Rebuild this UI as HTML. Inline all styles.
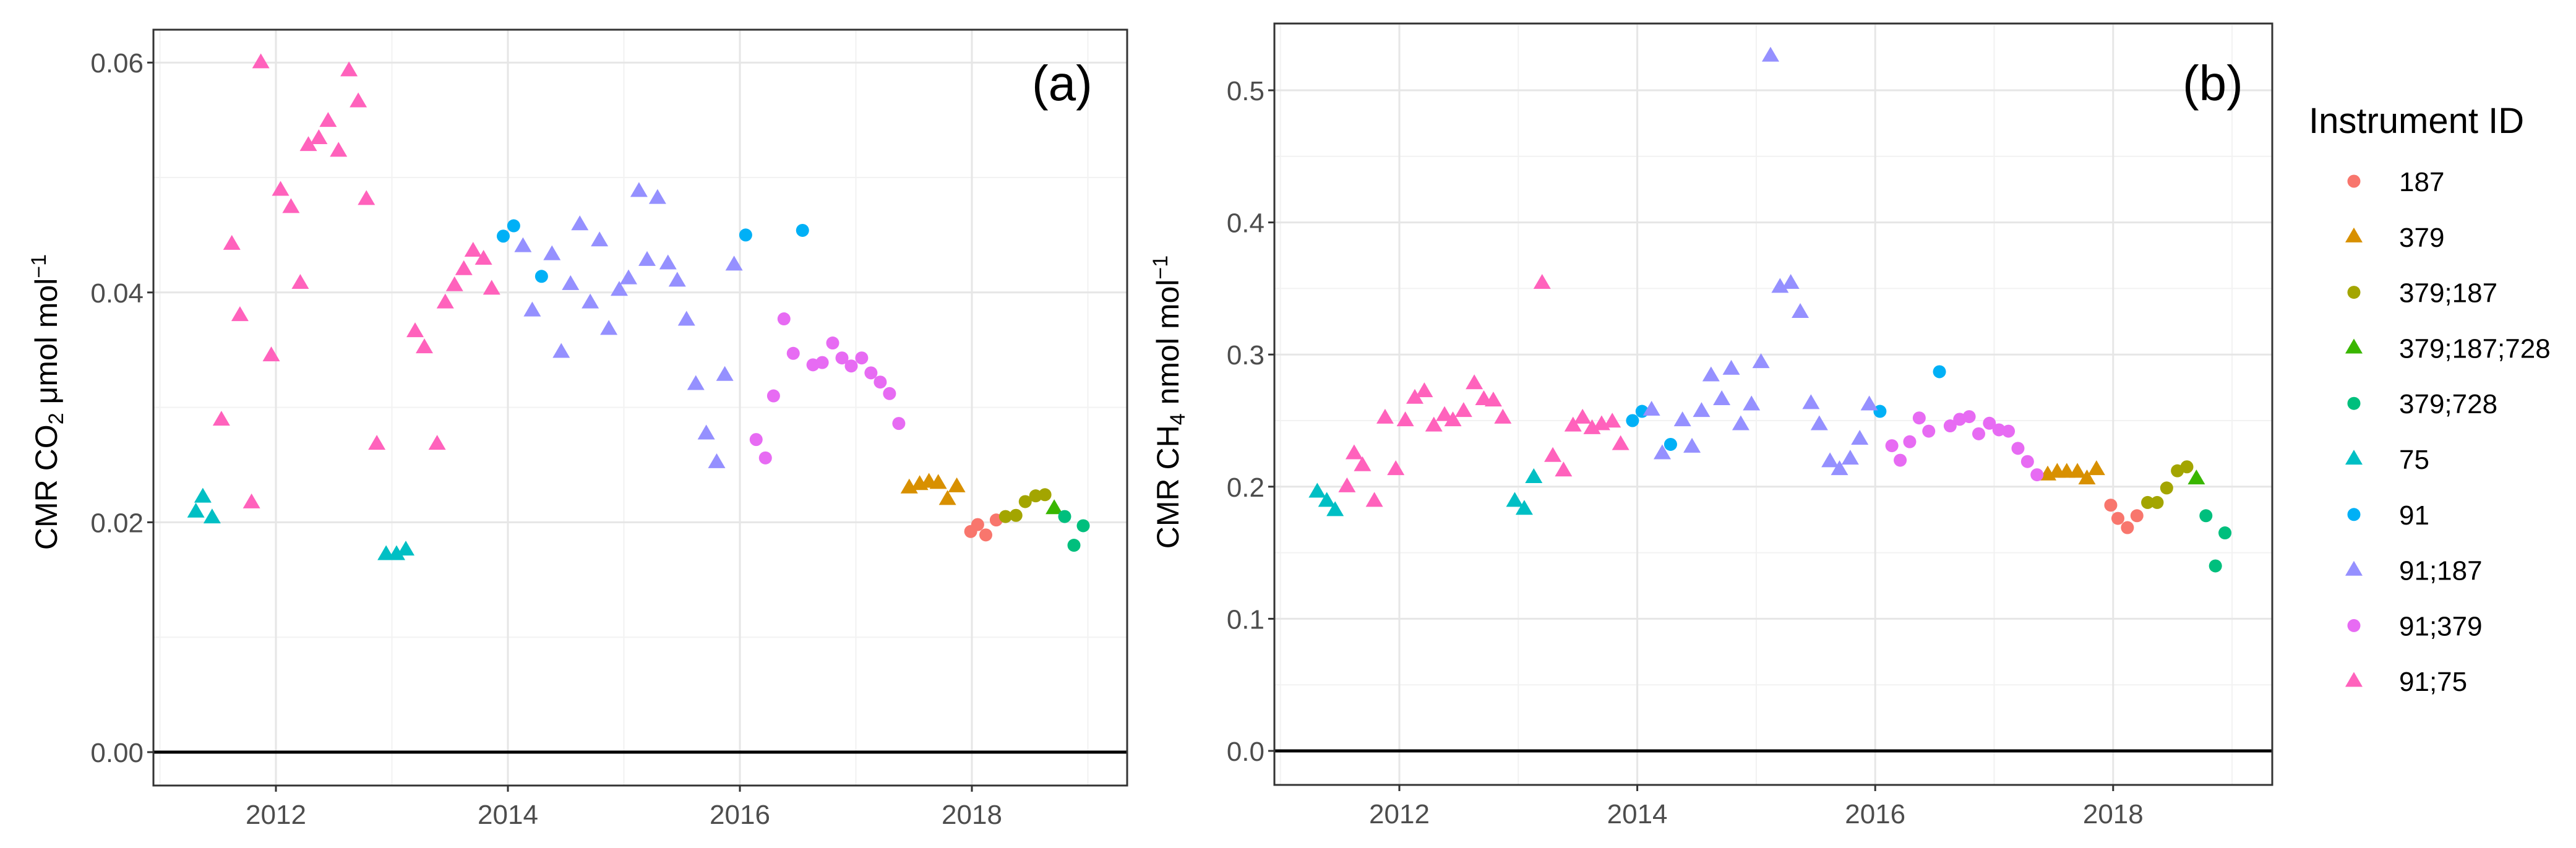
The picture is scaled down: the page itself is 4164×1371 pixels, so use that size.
<!DOCTYPE html>
<html><head><meta charset="utf-8"><style>
html,body{margin:0;padding:0;background:#fff;}
svg{display:block;font-family:"Liberation Sans",sans-serif;}
</style></head><body>
<svg id="chart" width="4164" height="1371" viewBox="0 0 4164 1371" xmlns="http://www.w3.org/2000/svg"></svg>
<script>
const seriesNames = ["187","379","379;187","379;187;728","379;728","75","91","91;187","91;379","91;75"];
const seriesColors = ["#F8766D","#D89000","#A3A500","#39B600","#00BF7D","#00BFC4","#00B0F6","#9590FF","#E76BF3","#FF62BC"];
const seriesShapes = ["c","t","c","t","c","t","c","t","c","t"];
const xTickLabels = ["2012","2014","2016","2018"];
const co2TickLabels = ["0.00","0.02","0.04","0.06"];
const ch4TickLabels = ["0.0","0.1","0.2","0.3","0.4","0.5"];

// Panel (a) CO2 data: [year, value]
const co2_187 = [[2017.99,0.0192],[2018.05,0.0198],[2018.12,0.0189],[2018.21,0.0202]];
const co2_379 = [[2017.46,0.0230],[2017.55,0.0233],[2017.63,0.0235],[2017.71,0.0234],[2017.79,0.0220],[2017.87,0.0231]];
const co2_379_187 = [[2018.29,0.0205],[2018.38,0.0206],[2018.46,0.0218],[2018.55,0.0223],[2018.63,0.0224]];
const co2_379_187_728 = [[2018.71,0.0212]];
const co2_379_728 = [[2018.80,0.0205],[2018.88,0.0180],[2018.96,0.0197]];
const co2_75 = [[2011.31,0.0209],[2011.37,0.0222],[2011.45,0.0204],[2012.95,0.0172],[2013.04,0.0172],[2013.12,0.0176]];
const co2_91 = [[2013.96,0.0449],[2014.05,0.0458],[2014.29,0.0414],[2016.05,0.0450],[2016.54,0.0454]];
const co2_91_187 = [[2014.13,0.0440],[2014.21,0.0384],[2014.38,0.0433],[2014.46,0.0348],[2014.54,0.0407],[2014.62,0.0459],[2014.71,0.0391],[2014.79,0.0445],[2014.87,0.0368],[2014.96,0.0402],[2015.04,0.0412],[2015.13,0.0488],[2015.20,0.0428],[2015.29,0.0482],[2015.38,0.0425],[2015.46,0.0410],[2015.54,0.0376],[2015.62,0.0320],[2015.71,0.0277],[2015.80,0.0252],[2015.87,0.0328],[2015.95,0.0424]];
const co2_91_379 = [[2016.14,0.0272],[2016.22,0.0256],[2016.29,0.0310],[2016.38,0.0377],[2016.46,0.0347],[2016.63,0.0337],[2016.71,0.0339],[2016.80,0.0356],[2016.88,0.0343],[2016.96,0.0336],[2017.05,0.0343],[2017.13,0.0330],[2017.21,0.0322],[2017.29,0.0312],[2017.37,0.0286]];
const co2_91_75 = [[2011.53,0.0289],[2011.62,0.0442],[2011.69,0.0380],[2011.79,0.0217],[2011.87,0.0600],[2011.96,0.0345],[2012.04,0.0489],[2012.13,0.0474],[2012.21,0.0408],[2012.28,0.0528],[2012.37,0.0534],[2012.45,0.0549],[2012.54,0.0523],[2012.63,0.0593],[2012.71,0.0566],[2012.78,0.0481],[2012.87,0.0268],[2013.20,0.0366],[2013.28,0.0352],[2013.39,0.0268],[2013.46,0.0391],[2013.54,0.0406],[2013.62,0.0420],[2013.70,0.0436],[2013.79,0.0429],[2013.86,0.0403]];

// Panel (b) CH4 data
const ch4_187 = [[2017.98,0.186],[2018.04,0.176],[2018.12,0.169],[2018.20,0.178]];
const ch4_379 = [[2017.45,0.209],[2017.53,0.211],[2017.61,0.211],[2017.70,0.211],[2017.78,0.206],[2017.86,0.213]];
const ch4_379_187 = [[2018.29,0.188],[2018.37,0.188],[2018.45,0.199],[2018.54,0.212],[2018.62,0.215]];
const ch4_379_187_728 = [[2018.70,0.206]];
const ch4_379_728 = [[2018.78,0.178],[2018.86,0.140],[2018.94,0.165]];
const ch4_75 = [[2011.31,0.196],[2011.39,0.189],[2011.46,0.182],[2012.97,0.189],[2013.05,0.183],[2013.13,0.207]];
const ch4_91 = [[2013.96,0.250],[2014.04,0.257],[2014.28,0.232],[2016.04,0.257],[2016.54,0.287]];
const ch4_91_187 = [[2014.12,0.258],[2014.21,0.225],[2014.38,0.250],[2014.46,0.230],[2014.54,0.257],[2014.62,0.284],[2014.71,0.266],[2014.79,0.289],[2014.87,0.247],[2014.96,0.262],[2015.04,0.294],[2015.12,0.526],[2015.20,0.351],[2015.29,0.354],[2015.37,0.332],[2015.46,0.263],[2015.53,0.247],[2015.62,0.219],[2015.70,0.213],[2015.79,0.221],[2015.87,0.236],[2015.95,0.262]];
const ch4_91_379 = [[2016.14,0.231],[2016.21,0.220],[2016.29,0.234],[2016.37,0.252],[2016.45,0.242],[2016.63,0.246],[2016.71,0.251],[2016.79,0.253],[2016.87,0.240],[2016.96,0.248],[2017.04,0.243],[2017.12,0.242],[2017.20,0.229],[2017.28,0.219],[2017.36,0.209]];
const ch4_91_75 = [[2011.56,0.200],[2011.62,0.225],[2011.69,0.216],[2011.79,0.189],[2011.88,0.252],[2011.97,0.213],[2012.05,0.250],[2012.13,0.267],[2012.21,0.272],[2012.29,0.246],[2012.38,0.254],[2012.45,0.250],[2012.54,0.257],[2012.63,0.278],[2012.71,0.266],[2012.79,0.265],[2012.87,0.252],[2013.20,0.354],[2013.29,0.223],[2013.38,0.212],[2013.46,0.246],[2013.54,0.252],[2013.62,0.244],[2013.70,0.247],[2013.79,0.249],[2013.86,0.232]];

const co2Series = [co2_187,co2_379,co2_379_187,co2_379_187_728,co2_379_728,co2_75,co2_91,co2_91_187,co2_91_379,co2_91_75];
const ch4Series = [ch4_187,ch4_379,ch4_379_187,ch4_379_187_728,ch4_379_728,ch4_75,ch4_91,ch4_91_187,ch4_91_379,ch4_91_75];

const NS = "http://www.w3.org/2000/svg";
const svg = document.getElementById('chart');
function mk(tag, attrs, parent){
  const e = document.createElementNS(NS, tag);
  for (const k in attrs) e.setAttribute(k, attrs[k]);
  (parent||svg).appendChild(e);
  return e;
}
function marker(g, shape, color, cx, cy){
  let e;
  if (shape === 'c') {
    e = mk('circle', {cx:cx, cy:cy, r:10.5, fill:color}, g);
  } else {
    const h = 24, w = 28;
    e = mk('polygon', {points:(cx)+','+(cy-h*0.62)+' '+(cx-w/2)+','+(cy+h*0.38)+' '+(cx+w/2)+','+(cy+h*0.38), fill:color}, g);
  }
  return e;
}

function panel(cfg){
  const g = mk('g', {});
  
  
  const xs = v => cfg.x2012 + (v - 2012) * cfg.xPerYear;
  const ys = v => cfg.y0 - v * cfg.yPerUnit;
  const L = cfg.left, R = cfg.right, T = cfg.top, B = cfg.bottom;
  // minor grid
  for (let yr = 2011; yr <= 2019; yr += 2) {
    const x = xs(yr); if (x < L || x > R) continue;
    const l = mk('line', {x1:x, x2:x, y1:T, y2:B, stroke:'#f2f2f2', 'stroke-width':2}, g);
     
  }
  for (let i = 0; i < cfg.yTicks.length; i++) {
    const v = cfg.yTicks[i] + cfg.yStep/2; const y = ys(v); if (y < T || y > B) continue;
    const l = mk('line', {x1:L, x2:R, y1:y, y2:y, stroke:'#f2f2f2', 'stroke-width':2}, g);
     
  }
  // major grid
  for (let i = 0; i < xTickLabels.length; i++) {
    const x = xs(+xTickLabels[i]);
    const l = mk('line', {x1:x, x2:x, y1:T, y2:B, stroke:'#e6e6e6', 'stroke-width':3}, g);
     
    const t = mk('line', {x1:x, x2:x, y1:B, y2:B+10, stroke:'#333', 'stroke-width':3}, g);
     
    const tx = mk('text', {x:x, y:B+62, 'text-anchor':'middle', 'font-size':44, fill:'#4d4d4d'}, g);
     
    tx.textContent = xTickLabels[i];
  }
  for (let i = 0; i < cfg.yTicks.length; i++) {
    const y = ys(cfg.yTicks[i]);
    const l = mk('line', {x1:L, x2:R, y1:y, y2:y, stroke:'#e6e6e6', 'stroke-width':3}, g);
     
    const t = mk('line', {x1:L-10, x2:L, y1:y, y2:y, stroke:'#333', 'stroke-width':3}, g);
     
    const tx = mk('text', {x:L-16, y:y+16, 'text-anchor':'end', 'font-size':44, fill:'#4d4d4d'}, g);
     
    tx.textContent = cfg.yLabels[i];
  }
  // zero line
  const z = mk('line', {x1:L, x2:R, y1:ys(0), y2:ys(0), stroke:'#000', 'stroke-width':5}, g);
   
  // points
  for (let s = 0; s < cfg.series.length; s++) {
    const sg = mk('g', {}, g);
    
    
    const data = cfg.series[s];
    for (let i = 0; i < data.length; i++) {
      const m = marker(sg, seriesShapes[s], seriesColors[s], xs(data[i][0]), ys(data[i][1]));
      
      
    }
  }
  // border
  const b = mk('rect', {x:L, y:T, width:R-L, height:B-T, fill:'none', stroke:'#333', 'stroke-width':3}, g);
   
  // panel letter
  const pl = mk('text', {x:cfg.letterX, y:162, 'font-size':80, fill:'#000'}, g);
   
  pl.textContent = cfg.letter;
  // y title
  const yt = mk('text', {x:0, y:0, 'text-anchor':'middle', 'font-size':50, fill:'#000',
    transform:'translate(' + cfg.titleX + ',650) rotate(-90)'}, g);
   
  yt.innerHTML = 'CMR ' + cfg.gas + '<tspan font-size="34" dy="10">' + cfg.sub + '</tspan><tspan dy="-10"> ' + cfg.unit + ' mol</tspan><tspan font-size="34" dy="-18">−1</tspan>';
}

panel({name:'panel-a-co2', left:248, right:1822, top:48, bottom:1270, x2012:446, xPerYear:187.5,
  y0:1216, yPerUnit:18580, yTicks:[0,0.02,0.04,0.06], yLabels:co2TickLabels, yStep:0.02,
  series:co2Series, letter:'(a)', letterX:1668, titleX:92, gas:'CO', sub:'2', unit:'μmol'});
panel({name:'panel-b-ch4', left:2060, right:3673, top:38, bottom:1269, x2012:2262, xPerYear:192.3,
  y0:1214, yPerUnit:2136, yTicks:[0,0.1,0.2,0.3,0.4,0.5], yLabels:ch4TickLabels, yStep:0.1,
  series:ch4Series, letter:'(b)', letterX:3528, titleX:1905, gas:'CH', sub:'4', unit:'nmol'});

// legend
const lg = mk('g', {});


const lt = mk('text', {x:3732, y:215, 'font-size':58, fill:'#000'}, lg);


lt.textContent = 'Instrument ID';
for (let s = 0; s < seriesNames.length; s++) {
  const y = 293 + s * 89.8;
  const eg = mk('g', {}, lg);
  
  
  marker(eg, seriesShapes[s], seriesColors[s], 3805, y);
  const t = mk('text', {x:3878, y:y+16, 'font-size':44, fill:'#000'}, eg);
  
  
  t.textContent = seriesNames[s];
}
</script>
</body></html>
